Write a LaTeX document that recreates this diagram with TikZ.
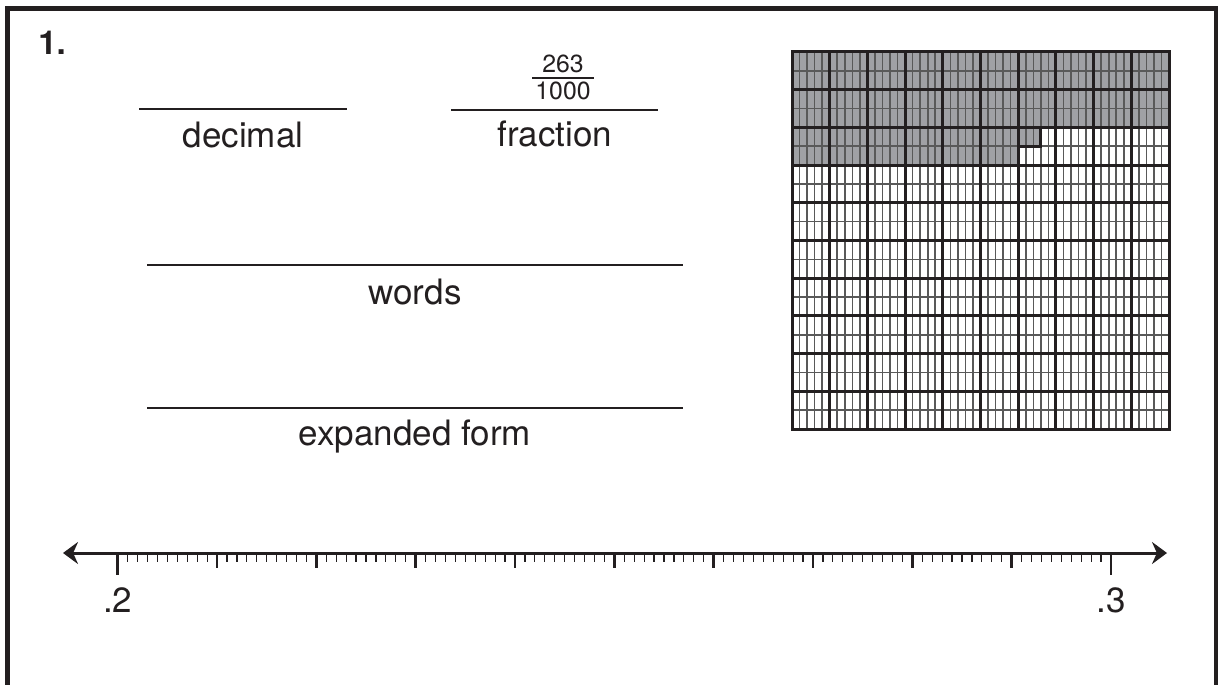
\documentclass[tikz,border=0pt]{standalone}
\usepackage{fontspec}
\setmainfont{TeX Gyre Heros}
\usetikzlibrary{arrows.meta}
\definecolor{ink}{RGB}{35,31,32}
\definecolor{cellgray}{RGB}{160,161,165}
\begin{document}
\begin{tikzpicture}[x=0.5pt,y=-0.5pt,
  >={Stealth[length=7.5pt,width=11pt]},
  lbl/.style={inner sep=0pt, anchor=base, text=ink, font=\fontsize{17.5pt}{20pt}\selectfont},
  smalllbl/.style={inner sep=0pt, anchor=base, text=ink, font=\fontsize{12.4pt}{14pt}\selectfont},
  ansline/.style={draw=ink, line width=0.75pt},
  gthin/.style={draw=black!65, line width=0.8pt},
  gthick/.style={draw=ink, line width=1.5pt},
  framestyle/.style={draw=ink, line width=2.5pt},
  minortick/.style={draw=ink, line width=0.6pt},
  majortick/.style={draw=ink, line width=1.3pt},
]
\useasboundingbox (0,0) rectangle (1218,684);
% frame (open at the bottom)
\draw[framestyle] (7,700) -- (7,8.5) -- (1216,8.5) -- (1216,700);

% title
\node[inner sep=0pt, anchor=base west, text=ink, font=\bfseries\fontsize{16.5pt}{19pt}\selectfont] (title) at (38,55) {1.};

% decimal
\coordinate (decA) at (139,109); \coordinate (decB) at (347,109);
\draw[ansline] (decA) -- (decB);
\node[lbl] (decimal) at (243,148) {decimal};

% fraction
\node[smalllbl] (fnum) at (563,73) {263};
\node[smalllbl] (fden) at (563,100) {1000};
\coordinate (barA) at (532,78); \coordinate (barB) at (594,78);
\draw[ansline] (barA) -- (barB);
\coordinate (fracA) at (451,110); \coordinate (fracB) at (658,110);
\draw[ansline] (fracA) -- (fracB);
\node[lbl] (fraction) at (555,147) {fraction};

% words
\coordinate (wA) at (147,265); \coordinate (wB) at (683,265);
\draw[ansline] (wA) -- (wB);
\node[lbl] (words) at (415,304) {words};

% expanded form
\coordinate (eA) at (147,408); \coordinate (eB) at (683,408);
\draw[ansline] (eA) -- (eB);
\node[lbl] (expanded) at (415,445) {expanded form};

% thousandths grid
\fill[cellgray] (792,52) -- (1169,52) -- (1169,127.4) -- (1040.8,127.4) -- (1040.8,146.25)
  -- (1018.2,146.25) -- (1018.2,165.1) -- (792,165.1) -- cycle;
\foreach \i in {1,...,49} \draw[gthin] ({792+\i*7.54},52) -- ++(0,377);
\foreach \j in {0,...,9} \draw[gthin] (792,{52+\j*37.7+18.85}) -- ++(377,0);
\foreach \i in {1,...,9} \draw[gthick] ({792+\i*37.7},52) -- ++(0,377);
\foreach \j in {1,...,9} \draw[gthick] (792,{52+\j*37.7}) -- ++(377,0);
\draw[gthick] (792,52) rectangle (1169,429);
\draw[gthick] (1018.2,146.25) -- (1040.8,146.25) -- (1040.8,127.4);

% number line
\coordinate (nlL) at (63,553); \coordinate (nlR) at (1167,553);
\draw[draw=ink, line width=1.5pt, <->] (nlL) -- (nlR);
\foreach \i in {1,...,99} \draw[minortick] ({117.7+\i*9.933},553) -- ++(0,9);
\foreach \i in {1,...,9} \draw[majortick] ({117.7+\i*99.33},553) -- ++(0,15);
\draw[majortick] (117.7,553) -- ++(0,22);
\draw[majortick] (1111,553) -- ++(0,22);
\node[lbl] (p2) at (117.7,612) {.2};
\node[lbl] (p3) at (1111,612) {.3};
\end{tikzpicture}
\end{document}
